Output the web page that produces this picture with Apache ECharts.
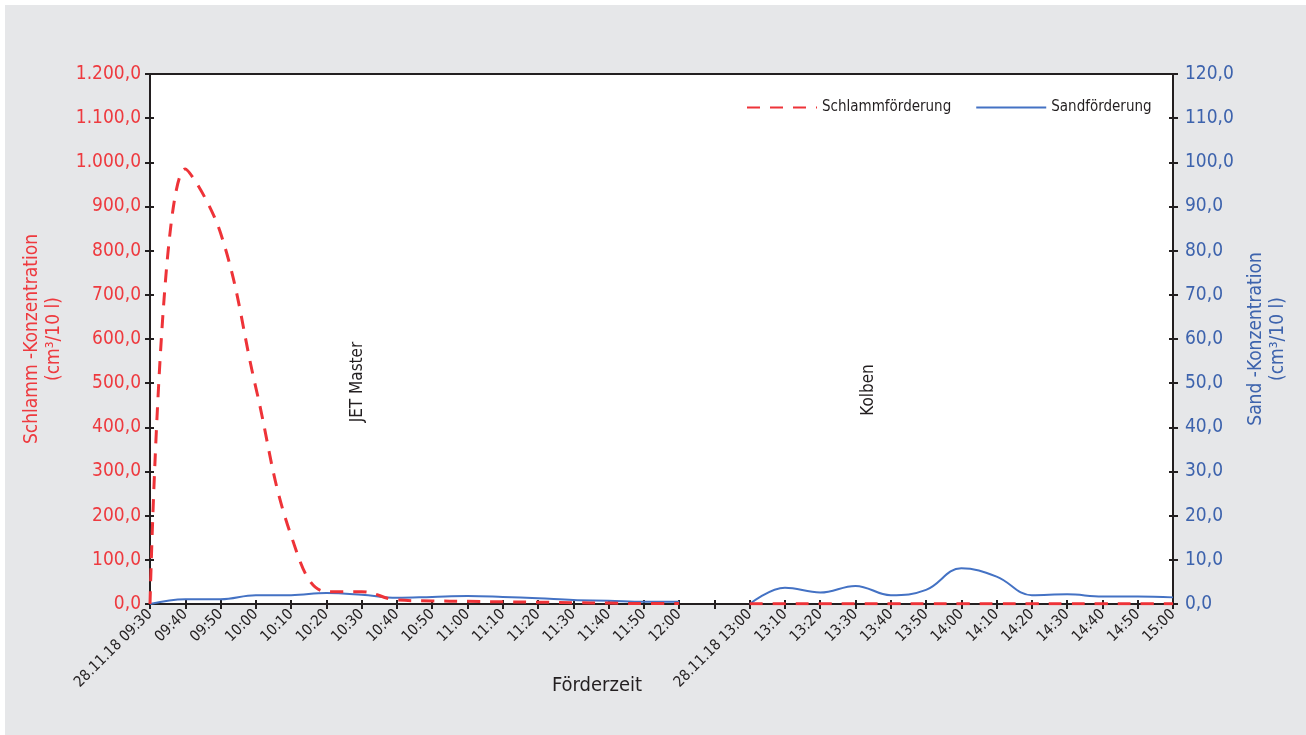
<!DOCTYPE html>
<html>
<head>
<meta charset="utf-8">
<script src="https://cdn.jsdelivr.net/npm/echarts@6/dist/echarts.min.js"></script>
<style>
  html, body { margin: 0; padding: 0; background: #ffffff; }
  #chart {
    position: absolute;
    left: 5px;
    top: 5px;
    width: 1301px;
    height: 730px;
    background-color: #e6e7e9;
  }
</style>
</head>
<body>
<div id="chart"></div>
<script>
  // Zeitachse: zwei Messblöcke, dazwischen ein leerer Platz
  var times = ['28.11.18 09:30', '09:40', '09:50', '10:00', '10:10', '10:20', '10:30', '10:40',
    '10:50', '11:00', '11:10', '11:20', '11:30', '11:40', '11:50', '12:00', '',
    '28.11.18 13:00', '13:10', '13:20', '13:30', '13:40', '13:50', '14:00', '14:10',
    '14:20', '14:30', '14:40', '14:50', '15:00'];

  // Schlamm-Konzentration (cm³/10 l), linke Achse
  var schlamm = [0, 985, 840, 490, 155, 28, 28, 9, 7, 6, 5, 4, 3, 2, 1, 1, null,
    0.5, 0.5, 0.5, 0.5, 0.5, 0.5, 0.5, 0.5, 0.5, 0.5, 0.5, 0.5, 0.5];

  // Sand-Konzentration (cm³/10 l), rechte Achse
  var sand = [0, 1.1, 1.1, 2.0, 2.0, 2.5, 2.1, 1.4, 1.6, 1.8, 1.6, 1.3, 0.9, 0.75, 0.5, 0.5, null,
    0, 3.7, 2.6, 4.1, 2.0, 3.2, 8.1, 6.2, 2.0, 2.2, 1.7, 1.7, 1.5];

  var red = '#ee3338';
  var redText = '#ee3a3f';
  var blue = '#4472c4';
  var blueText = '#3d63ad';
  var ink = '#231f20';
  var font = "'Liberation Sans Narrow', 'DejaVu Sans Condensed', sans-serif";

  function deNum(v) {
    var s = v.toFixed(1).split('.');
    var int = s[0].replace(/\B(?=(\d{3})+(?!\d))/g, '.');
    return int + ',' + s[1];
  }

  // nur für die nach innen zeigenden Teilstriche (Kreuz-Ticks)
  var innerTick = { show: true, inside: true, length: 4, lineStyle: { color: ink, width: 2 } };

  var myChart = echarts.init(document.getElementById('chart'));
  myChart.setOption({
    animation: false,
    textStyle: { fontFamily: font },
    grid: {
      left: 145,
      right: 133,
      top: 69,
      bottom: 131,
      show: true,
      backgroundColor: '#ffffff',
      borderColor: ink,
      borderWidth: 2
    },
    legend: {
      left: 736,
      top: 90,
      itemWidth: 70,
      itemHeight: 14,
      itemGap: 24,
      itemStyle: { opacity: 0 },
      textStyle: { color: ink, fontSize: 15, fontFamily: font },
      data: ['Schlammförderung', 'Sandförderung']
    },
    xAxis: [{
        type: 'category',
        boundaryGap: false,
        data: times,
        axisLine: { lineStyle: { color: ink, width: 2 } },
        axisTick: { show: true, length: 5, interval: 0, lineStyle: { color: ink, width: 2 } },
        axisLabel: {
          interval: 0,
          rotate: 45,
          color: ink,
          fontSize: 15,
          fontFamily: font,
          margin: 8
        },
        splitLine: { show: false }
      },
      {
        type: 'category',
        boundaryGap: false,
        data: times,
        position: 'bottom',
        axisLine: { show: false },
        axisTick: Object.assign({ interval: 0 }, innerTick),
        axisLabel: { show: false },
        splitLine: { show: false }
      }
    ],
    yAxis: [{
        type: 'value',
        min: 0,
        max: 1200,
        interval: 100,
        name: 'Schlamm -Konzentration\n(cm³/10 l)',
        nameLocation: 'middle',
        nameRotate: 90,
        nameGap: 67,
        nameTextStyle: { color: redText, fontSize: 19, fontFamily: font, lineHeight: 22 },
        axisLine: { show: true, lineStyle: { color: ink, width: 2 } },
        axisTick: { show: true, length: 5, lineStyle: { color: ink, width: 2 } },
        axisLabel: { color: redText, fontSize: 19, fontFamily: font, margin: 9, formatter: deNum },
        splitLine: { show: false }
      },
      {
        type: 'value',
        min: 0,
        max: 120,
        interval: 10,
        position: 'right',
        name: 'Sand -Konzentration\n(cm³/10 l)',
        nameLocation: 'middle',
        nameRotate: 90,
        nameGap: 64,
        nameTextStyle: { color: blueText, fontSize: 19, fontFamily: font, lineHeight: 22 },
        axisLine: { show: true, lineStyle: { color: ink, width: 2 } },
        axisTick: { show: true, length: 5, lineStyle: { color: ink, width: 2 } },
        axisLabel: { color: blueText, fontSize: 19, fontFamily: font, margin: 12, formatter: deNum },
        splitLine: { show: false }
      },
      {
        type: 'value',
        min: 0,
        max: 1200,
        interval: 100,
        position: 'left',
        axisLine: { show: false },
        axisTick: innerTick,
        axisLabel: { show: false },
        splitLine: { show: false }
      },
      {
        type: 'value',
        min: 0,
        max: 120,
        interval: 10,
        position: 'right',
        axisLine: { show: false },
        axisTick: innerTick,
        axisLabel: { show: false },
        splitLine: { show: false }
      }
    ],
    graphic: [{
        type: 'text',
        x: 353,
        y: 377,
        rotation: Math.PI / 2,
        style: { text: 'JET Master', fill: ink, font: '17px ' + font, align: 'center', verticalAlign: 'middle' }
      },
      {
        type: 'text',
        x: 864,
        y: 385,
        rotation: Math.PI / 2,
        style: { text: 'Kolben', fill: ink, font: '17px ' + font, align: 'center', verticalAlign: 'middle' }
      },
      {
        type: 'text',
        x: 592,
        y: 681,
        style: { text: 'Förderzeit', fill: ink, font: '20px ' + font, align: 'center', verticalAlign: 'middle' }
      }
    ],
    series: [{
        name: 'Schlammförderung',
        type: 'line',
        xAxisIndex: 0,
        yAxisIndex: 0,
        data: schlamm,
        smooth: 0.4,
        symbol: 'none',
        connectNulls: false,
        itemStyle: { color: red },
        lineStyle: { color: red, width: 3, type: [13, 10] },
        z: 3
      },
      {
        name: 'Sandförderung',
        type: 'line',
        xAxisIndex: 0,
        yAxisIndex: 1,
        data: sand,
        smooth: 0.4,
        symbol: 'none',
        connectNulls: false,
        itemStyle: { color: blue },
        lineStyle: { color: blue, width: 2 },
        z: 2
      }
    ]
  });
</script>
</body>
</html>
